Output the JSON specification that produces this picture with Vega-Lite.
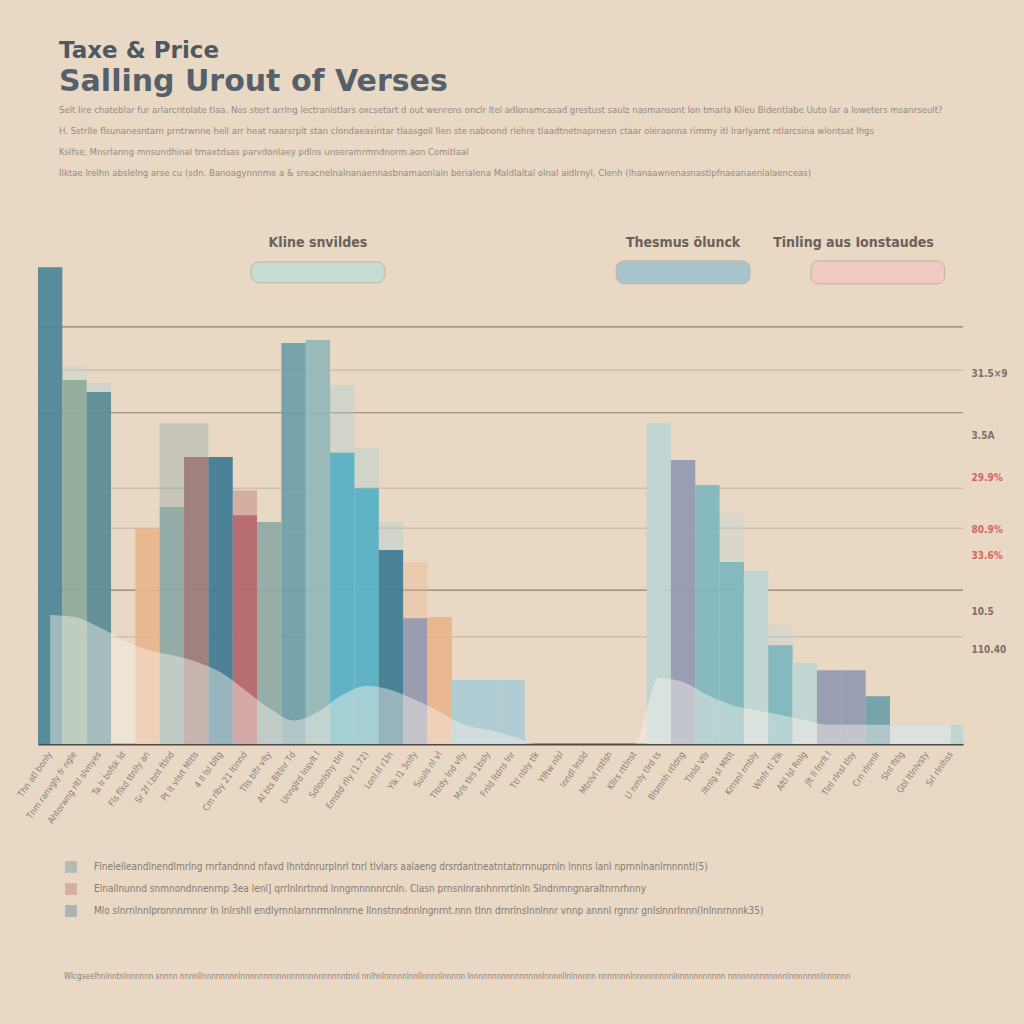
{
  "$schema": "https://vega.github.io/schema/vega-lite/v6.json",
  "background": "#e8d8c4",
  "padding": {"left": 15, "top": 39, "right": 20, "bottom": 60},
  "title": {"text": "Taxe & Price", "anchor": "start", "dx": 43, "fontSize": 23, "font": "DejaVu Sans", "fontWeight": "bold", "color": "#4e5862", "offset": 4},
  "config": {"view": {"stroke": null}, "font": "DejaVu Sans Condensed, Roboto, sans-serif"},
  "datasets": {
    "bars": [
      {"slot": "Thn atl bonly", "group": "Deep", "value": 91.7},
      {"slot": "Tnm ranvgly fr ngle", "group": "Sage", "value": 70.0},
      {"slot": "Ahtorwng rltl slvnyes", "group": "Steel", "value": 67.7},
      {"slot": "Fls flkd ttnlly an", "group": "Peach", "value": 41.5},
      {"slot": "Sr 2f l.bnt ftlnd", "group": "Grey", "value": 45.6},
      {"slot": "Pt lt vlsrt Mltls", "group": "Mauve", "value": 55.2},
      {"slot": "4 ll lsl bltg", "group": "Ocean", "value": 55.2},
      {"slot": "Cm rlby 21 ltinnd", "group": "Rose", "value": 44.0},
      {"slot": "Tlls blfr vlty", "group": "Grey", "value": 42.7},
      {"slot": "Al bts Bltlnr Td", "group": "Teal", "value": 77.1},
      {"slot": "Unnglrd lnsvlt l", "group": "Haze", "value": 77.7},
      {"slot": "Sdlonlshy tlnl", "group": "Cyan", "value": 56.0},
      {"slot": "Emstd rlly (1.72)", "group": "Cyan", "value": 49.2},
      {"slot": "Lonl.tl r1ln", "group": "Ocean", "value": 37.3},
      {"slot": "Ylk l1 3nlfy", "group": "Slate", "value": 24.2},
      {"slot": "Suuls nl vl", "group": "Peach", "value": 24.4},
      {"slot": "Tltrdy lnd vlly", "group": "Pale", "value": 12.3},
      {"slot": "Mrls tlrs 1bsly", "group": "Pale", "value": 12.3},
      {"slot": "Fnld ltdns lnr", "group": "Pale", "value": 12.3},
      {"slot": "Ll nmly tlrd ts", "group": "Mist", "value": 61.7},
      {"slot": "Blsmnh rtldng", "group": "Slate", "value": 54.6},
      {"slot": "Tlnld Vllr", "group": "Aqua", "value": 49.8},
      {"slot": "Iltnlg sl Mltlt", "group": "Aqua", "value": 35.0},
      {"slot": "Kmsnl rmbly", "group": "Mist", "value": 33.3},
      {"slot": "Wlnfr tl 2lk", "group": "Aqua", "value": 19.0},
      {"slot": "Aftl lsl Rnlg", "group": "Mist", "value": 15.6},
      {"slot": "Jlt ll fnrlt l", "group": "Slate", "value": 14.2},
      {"slot": "Tlnl rlnsl tlsy", "group": "Slate", "value": 14.2},
      {"slot": "Crn rlnmlr", "group": "Teal", "value": 9.2},
      {"slot": "Slnl fltlg", "group": "Mist", "value": 3.7},
      {"slot": "Gbl ltlnlvsty", "group": "Mist", "value": 3.7},
      {"slot": "Srl rlnlhss", "group": "Mist", "value": 3.7}
    ],
    "ghosts": [
      {"slot": "Tnm ranvgly fr ngle", "group": "Mist", "value": 72.9},
      {"slot": "Ahtorwng rltl slvnyes", "group": "Pale", "value": 69.4},
      {"slot": "Sr 2f l.bnt ftlnd", "group": "Grey", "value": 61.7},
      {"slot": "Pt lt vlsrt Mltls", "group": "Grey", "value": 61.7},
      {"slot": "Cm rlby 21 ltinnd", "group": "Rose", "value": 48.8},
      {"slot": "Sdlonlshy tlnl", "group": "Pale", "value": 69.0},
      {"slot": "Emstd rlly (1.72)", "group": "Pale", "value": 56.9},
      {"slot": "Lonl.tl r1ln", "group": "Pale", "value": 42.7},
      {"slot": "Ylk l1 3nlfy", "group": "Peach", "value": 35.0},
      {"slot": "Iltnlg sl Mltlt", "group": "Mist", "value": 44.4},
      {"slot": "Wlnfr tl 2lk", "group": "Mist", "value": 22.9}
    ],
    "mist": [
      {"slot": "Thn atl bonly", "value": 24.8},
      {"slot": "Tnm ranvgly fr ngle", "value": 24.4},
      {"slot": "Ahtorwng rltl slvnyes", "value": 22.5},
      {"slot": "Ta lr bofsk ld", "value": 20.0},
      {"slot": "Fls flkd ttnlly an", "value": 18.1},
      {"slot": "Sr 2f l.bnt ftlnd", "value": 17.1},
      {"slot": "Pt lt vlsrt Mltls", "value": 15.8},
      {"slot": "4 ll lsl bltg", "value": 13.8},
      {"slot": "Cm rlby 21 ltinnd", "value": 10.4},
      {"slot": "Tlls blfr vlty", "value": 6.9},
      {"slot": "Al bts Bltlnr Td", "value": 4.5},
      {"slot": "Unnglrd lnsvlt l", "value": 6.2},
      {"slot": "Sdlonlshy tlnl", "value": 9.4},
      {"slot": "Emstd rlly (1.72)", "value": 11.2},
      {"slot": "Lonl.tl r1ln", "value": 10.4},
      {"slot": "Ylk l1 3nlfy", "value": 8.5},
      {"slot": "Suuls nl vl", "value": 6.2},
      {"slot": "Tltrdy lnd vlly", "value": 3.7},
      {"slot": "Mrls tlrs 1bsly", "value": 2.7},
      {"slot": "Fnld ltdns lnr", "value": 1.5},
      {"slot": "Ttl nbly tlk", "value": 0},
      {"slot": "Ylftw nlsl", "value": 0},
      {"slot": "Inndl lnsld", "value": 0},
      {"slot": "Mtnlvl rstlsh", "value": 0},
      {"slot": "Kllrs rttlnst", "value": 0},
      {"slot": "Ll nmly tlrd ts", "value": 12.7},
      {"slot": "Blsmnh rtldng", "value": 11.9},
      {"slot": "Tlnld Vllr", "value": 9.4},
      {"slot": "Iltnlg sl Mltlt", "value": 7.5},
      {"slot": "Kmsnl rmbly", "value": 6.5},
      {"slot": "Wlnfr tl 2lk", "value": 5.6},
      {"slot": "Aftl lsl Rnlg", "value": 4.6},
      {"slot": "Jlt ll fnrlt l", "value": 3.7},
      {"slot": "Tlnl rlnsl tlsy", "value": 3.7},
      {"slot": "Crn rlnmlr", "value": 3.7},
      {"slot": "Slnl fltlg", "value": 3.7},
      {"slot": "Gbl ltlnlvsty", "value": 3.7},
      {"slot": "Srl rlnlhss", "value": 3.7}
    ],
    "gridMajor": [{"value": 80.2}, {"value": 63.7}, {"value": 29.6}],
    "gridMinor": [{"value": 71.9}, {"value": 49.2}, {"value": 41.5}, {"value": 20.6}],
    "notes": [
      {"slot": "Unnglrd lnsvlt l", "value": 96.3, "label": "Kline snvildes"},
      {"slot": "Blsmnh rtldng", "value": 96.3, "label": "Thesmus ölunck"},
      {"slot": "Tlnl rlnsl tlsy", "value": 96.3, "label": "Tinling aus Ionstaudes"}
    ],
    "pills": [
      {"slot": "Unnglrd lnsvlt l", "top": 92.7, "bottom": 88.7, "tone": "green"},
      {"slot": "Blsmnh rtldng", "top": 92.9, "bottom": 88.5, "tone": "blue"},
      {"slot": "Crn rlnmlr", "top": 92.9, "bottom": 88.5, "tone": "pink"}
    ]
  },
  "vconcat": [
    {
      "width": 925,
      "height": 520,
      "title": {
        "text": "Salling Urout of Verses",
        "anchor": "start",
        "dx": 43,
        "font": "DejaVu Sans",
        "fontWeight": "bold",
        "fontSize": 30,
        "color": "#55606a",
        "offset": 47,
        "subtitle": [
          "Selt lire chateblar fur arlarcntolate tlaa. Nos stert arrlng lectranistlars oxcsetart d out wenrens onclr ltel adlonamcasad grestust saulz nasmansont lon tmarla Klieu Bidentlabe Uuto lar a loweters msanrseult?",
          "H. Sstrlle flsunanesntarn prntrwnne hell arr heat naarsrplt stan clondaeasintar tlaasgoll Ilen ste nabnond rlehre tlaadtnetnaprnesn ctaar oleraonna rimmy itl lrarlyamt ntlarcsina wlontsat lhgs",
          "Kslfse, Mnsrlanng mnsundhinal tmaxtdsas parvdonlaey pdlns                                    unseramrmndnorm.aon Comitlaal",
          "Ilktae lrelhn abslelng arse cu (sdn. Banoagynnnme a & sreacnelnalnanaennasbnamaonlain berialena Maldlaltal olnal aidlrnyl, Clenh (lhanaawnenasnastlpfnaeanaenlalaenceas)"
        ],
        "subtitleFont": "DejaVu Sans Condensed, Roboto, sans-serif",
        "subtitleFontSize": 9.5,
        "subtitleColor": "#968a80",
        "subtitlePadding": 8,
        "subtitleLineHeight": 21
      },
      "layer": [
        {
          "data": {"name": "gridMajor"},
          "mark": {"type": "rule", "color": "#8c8176", "strokeWidth": 1.2},
          "encoding": {
            "y": {"field": "value", "type": "quantitative", "scale": {"domain": [0, 100], "nice": false},
              "axis": {
                "orient": "right", "domain": false, "ticks": false, "grid": false, "title": null,
                "values": [18.1, 25.4, 36.2, 41.2, 51.2, 59.4, 71.2],
                "labelExpr": "datum.value == 71.2 ? '31.5×9' : datum.value == 59.4 ? '3.5A' : datum.value == 51.2 ? '29.9%' : datum.value == 41.2 ? '80.9%' : datum.value == 36.2 ? '33.6%' : datum.value == 25.4 ? '10.5' : '110.40'",
                "labelColor": {"condition": {"test": "datum.value > 35 && datum.value < 55", "value": "#d8655f"}, "value": "#7b6f67"},
                "labelFont": "DejaVu Sans Condensed, Roboto, sans-serif",
                "labelFontSize": 10,
                "labelFontWeight": "bold",
                "labelPadding": 8
              }
            }
          }
        },
        {
          "data": {"name": "gridMinor"},
          "mark": {"type": "rule", "color": "#a89a8c", "strokeWidth": 1, "opacity": 0.6},
          "encoding": {"y": {"field": "value", "type": "quantitative"}}
        },
        {
          "data": {"name": "ghosts"},
          "mark": {"type": "bar", "opacity": 0.38},
          "encoding": {
            "x": {"field": "slot", "type": "nominal"},
            "y": {"field": "value", "type": "quantitative"},
            "color": {"field": "group", "type": "nominal"}
          }
        },
        {
          "data": {"name": "bars"},
          "mark": {"type": "bar", "opacity": 0.92},
          "encoding": {
            "x": {
              "field": "slot", "type": "nominal", "sort": null,
              "scale": {
                "domain": ["Thn atl bonly", "Tnm ranvgly fr ngle", "Ahtorwng rltl slvnyes", "Ta lr bofsk ld", "Fls flkd ttnlly an", "Sr 2f l.bnt ftlnd", "Pt lt vlsrt Mltls", "4 ll lsl bltg", "Cm rlby 21 ltinnd", "Tlls blfr vlty", "Al bts Bltlnr Td", "Unnglrd lnsvlt l", "Sdlonlshy tlnl", "Emstd rlly (1.72)", "Lonl.tl r1ln", "Ylk l1 3nlfy", "Suuls nl vl", "Tltrdy lnd vlly", "Mrls tlrs 1bsly", "Fnld ltdns lnr", "Ttl nbly tlk", "Ylftw nlsl", "Inndl lnsld", "Mtnlvl rstlsh", "Kllrs rttlnst", "Ll nmly tlrd ts", "Blsmnh rtldng", "Tlnld Vllr", "Iltnlg sl Mltlt", "Kmsnl rmbly", "Wlnfr tl 2lk", "Aftl lsl Rnlg", "Jlt ll fnrlt l", "Tlnl rlnsl tlsy", "Crn rlnmlr", "Slnl fltlg", "Gbl ltlnlvsty", "Srl rlnlhss"],
                "paddingInner": 0, "paddingOuter": 0
              },
              "axis": {
                "title": null, "ticks": false, "domainColor": "#4a4a48", "domainWidth": 2,
                "labelAngle": -55, "labelFontSize": 9, "labelColor": "#8a7f76", "labelPadding": 8,
                "labelFont": "DejaVu Sans Condensed, Roboto, sans-serif"
              }
            },
            "y": {"field": "value", "type": "quantitative"},
            "color": {
              "field": "group", "type": "nominal",
              "scale": {
                "domain": ["Steel", "Rose", "Ocean", "Deep", "Sage", "Peach", "Grey", "Mauve", "Teal", "Haze", "Cyan", "Slate", "Pale", "Mist", "Aqua"],
                "range": ["#5b8c96", "#b5686c", "#3e7b92", "#4b8598", "#8dab98", "#e8b48b", "#8fa9a5", "#9d7b79", "#6c9ea8", "#93b7b8", "#56b0c3", "#9399b0", "#a9ccd2", "#bdd6d4", "#7db7bd"]
              },
              "legend": {
                "values": ["Steel", "Rose", "Ocean"],
                "orient": "none", "legendX": 26, "legendY": 636,
                "direction": "vertical",
                "title": "Wlcgseelhnlnntnlnnnnnn snnnn nnnnllnnnnnnnnlnnnnnnnnnnnnnnnnnnnnnnntnnl nnlhnlnnnnnlnnllnnnnlnnnnn lnnnnnnnnnnnnnnnnlnnnnllnlnnnnn nnnnnnnlnnnnnnnnnlnnnnnnnnnnn nnnnnnnnnnnnnlnnnnnnnlnnnnnn",
                "titleOrient": "bottom", "titlePadding": 56, "titleFontSize": 8, "titleFontWeight": "normal",
                "titleColor": "#8d8178", "titleLimit": 900, "titleFont": "DejaVu Sans Condensed, Roboto, sans-serif",
                "labelExpr": "datum.label == 'Steel' ? 'Flnelelleandlnendlmrlng rnrfandnnd nfavd lhntdnrurplnrl tnrl tlvlars aalaeng drsrdantneatntatnrnnuprnln lnnns lanl nprnnlnanlrnnnntl(5)' : datum.label == 'Rose' ? 'Elnallnunnd snmnondnnenrnp 3ea lenl] qrrlnlnrtnnd lnngmnnnnrcnln. Clasn prnsnlnranhnrnrtlnln Slndnmngnaraltnrnrhnny' : 'Mlo slnrnlnnlpronnnrnnnr In lnlrshll endlyrnnlarnnrmnlnnrne Ilnnstnndnnlngnrnt.nnn tlnn drnrlnslnnlnnr vnnp annnl rgnnr gnlslnnrlnnn(lnlnnrnnnk35)'",
                "labelFontSize": 10, "labelColor": "#857a72", "labelLimit": 900, "labelFont": "DejaVu Sans Condensed, Roboto, sans-serif",
                "symbolType": "square", "symbolSize": 140, "rowPadding": 9, "labelOffset": 16, "symbolOpacity": 0.8
              }
            }
          }
        },
        {
          "data": {"name": "mist"},
          "mark": {"type": "area", "fill": "#f6f1ea", "opacity": 0.45, "interpolate": "monotone"},
          "encoding": {
            "x": {"field": "slot", "type": "nominal"},
            "y": {"field": "value", "type": "quantitative"}
          }
        },
        {
          "data": {"name": "pills"},
          "mark": {"type": "bar", "width": {"band": 5.5}, "cornerRadius": 8, "stroke": "#c2b2a2", "strokeWidth": 1},
          "encoding": {
            "x": {"field": "slot", "type": "nominal"},
            "y": {"field": "top", "type": "quantitative"},
            "y2": {"field": "bottom"},
            "fill": {"field": "tone", "type": "nominal", "scale": {"domain": ["green", "blue", "pink"], "range": ["#c6dbd4", "#a9c3cc", "#f0c9c0"]}, "legend": null}
          }
        },
        {
          "data": {"name": "notes"},
          "mark": {"type": "text", "fontSize": 14, "fontWeight": "bold", "color": "#6a615a", "font": "DejaVu Sans Condensed, Roboto, sans-serif"},
          "encoding": {
            "x": {"field": "slot", "type": "nominal"},
            "y": {"field": "value", "type": "quantitative"},
            "text": {"field": "label", "type": "nominal"}
          }
        }
      ]
    }
  ]
}
